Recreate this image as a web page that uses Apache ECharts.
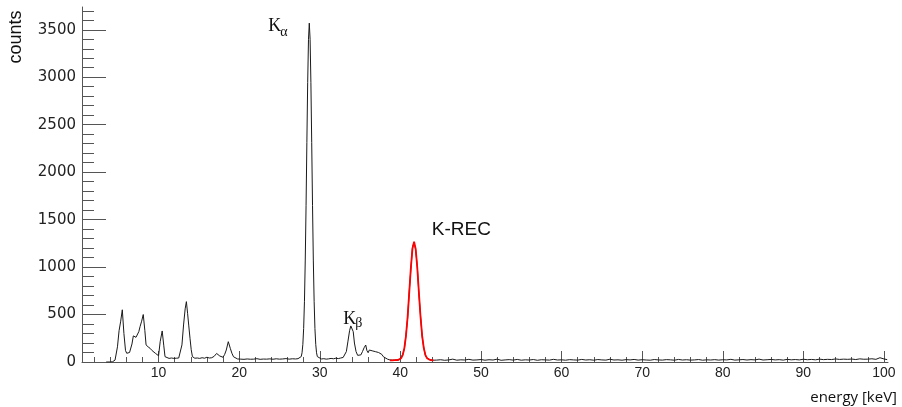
<!DOCTYPE html>
<html>
<head>
<meta charset="utf-8">
<script src="https://cdn.jsdelivr.net/npm/echarts@6/dist/echarts.min.js"></script>
<style>
    html, body { margin: 0; padding: 0; background: #fff; }
    #chart { width: 902px; height: 407px; }
</style>
</head>
<body>
<div id="chart"></div>
<script>
// measured spectrum (energy in keV, counts per bin)
const energy = [
    3.5, 4.0, 4.3, 4.6, 4.9, 5.1, 5.3, 5.5, 5.7, 5.9, 6.05, 6.2, 6.4, 6.55, 6.7, 6.87, 7.05, 7.2, 7.37, 7.55,
    7.7, 7.9, 8.1, 8.3, 8.45, 8.7, 8.95, 9.2, 9.4, 9.6, 9.8, 10.0, 10.2, 10.45, 10.65, 10.8, 11.0, 11.3, 11.6, 11.9,
    12.2, 12.5, 12.7, 12.9, 13.1, 13.3, 13.45, 13.6, 13.75, 13.9, 14.05, 14.2, 14.5, 14.8, 15.1, 15.4, 15.7, 16.0, 16.3, 16.6,
    16.9, 17.2, 17.4, 17.6, 17.8, 18.0, 18.2, 18.4, 18.65, 18.9, 19.1, 19.3, 19.5, 19.8, 20.2, 20.6, 21.0, 21.4, 21.8, 22.2,
    22.6, 23.0, 23.4, 23.8, 24.2, 24.6, 25.0, 25.4, 25.8, 26.2, 26.6, 27.0, 27.3, 27.5, 27.7, 27.8, 27.9, 28.0, 28.1, 28.2,
    28.3, 28.4, 28.5, 28.6, 28.7, 28.8, 28.9, 29.0, 29.1, 29.2, 29.3, 29.4, 29.5, 29.6, 29.7, 29.9, 30.2, 30.5, 30.8, 31.1,
    31.4, 31.7, 32.0, 32.3, 32.6, 32.9, 33.1, 33.3, 33.5, 33.7, 33.85, 34.0, 34.15, 34.3, 34.5, 34.7, 34.9, 35.1, 35.3, 35.5,
    35.7, 35.85, 36.0, 36.15, 36.3, 36.5, 36.7, 36.9, 37.1, 37.3, 37.5, 37.7, 37.9, 38.1, 38.4, 38.7, 39.0, 39.3, 39.6, 39.9,
    40.1, 40.3, 40.5, 40.7, 40.9, 41.1, 41.3, 41.5, 41.7, 41.9, 42.1, 42.3, 42.5, 42.7, 42.9, 43.1, 43.3, 43.5, 43.7, 44.0,
    44.5, 45.0, 45.5, 46.0, 46.5, 47.0, 47.5, 48.0, 48.5, 49.0, 49.5, 50.0, 50.5, 51.0, 51.5, 52.0, 52.5, 53.0, 53.5, 54.0,
    54.5, 55.0, 55.5, 56.0, 56.5, 57.0, 57.5, 58.0, 58.5, 59.0, 59.5, 60.0, 60.5, 61.0, 61.5, 62.0, 62.5, 63.0, 63.5, 64.0,
    64.5, 65.0, 65.5, 66.0, 66.5, 67.0, 67.5, 68.0, 68.5, 69.0, 69.5, 70.0, 70.5, 71.0, 71.5, 72.0, 72.5, 73.0, 73.5, 74.0,
    74.5, 75.0, 75.5, 76.0, 76.5, 77.0, 77.5, 78.0, 78.5, 79.0, 79.5, 80.0, 80.5, 81.0, 81.5, 82.0, 82.5, 83.0, 83.5, 84.0,
    84.5, 85.0, 85.5, 86.0, 86.5, 87.0, 87.5, 88.0, 88.5, 89.0, 89.5, 90.0, 90.5, 91.0, 91.5, 92.0, 92.5, 93.0, 93.5, 94.0,
    94.5, 95.0, 95.5, 96.0, 96.5, 97.0, 97.5, 98.0, 98.5, 99.0, 99.5, 100.0, 100.4
]
const counts = [
    0, 0, 3, 20, 160, 330, 430, 550, 300, 120, 92, 105, 100, 82, 190, 275, 285, 260, 245, 320,
    372, 430, 500, 330, 180, 160, 144, 120, 105, 92, 75, 66, 214, 327, 170, 56, 40, 38, 42, 38,
    40, 42, 55, 180, 390, 560, 636, 513, 380, 250, 130, 56, 40, 42, 38, 45, 40, 50, 42, 45,
    60, 90, 70, 63, 55, 50, 80, 126, 214, 144, 92, 55, 39, 32, 30, 28, 32, 29, 30, 35,
    28, 31, 30, 33, 29, 34, 30, 32, 36, 30, 34, 32, 35, 38, 57, 97, 186, 353, 640, 1074,
    1651, 2311, 2943, 3400, 3570, 3400, 2943, 2311, 1651, 1074, 640, 353, 186, 97, 57, 38, 32, 35, 30, 33,
    38, 34, 40, 36, 42, 48, 56, 110, 220, 330, 380, 390, 320, 200, 110, 70, 58, 75, 110, 150,
    179, 120, 98, 126, 110, 118, 112, 109, 104, 100, 98, 80, 55, 39, 30, 22, 20, 22, 20, 24,
    35, 80, 140, 290, 460, 745, 975, 1210, 1260, 1180, 1005, 715, 490, 270, 155, 70, 42, 25, 22, 19,
    20, 24, 18, 22, 30, 19, 23, 21, 28, 20, 22, 26, 19, 24, 21, 30, 18, 22, 25, 20,
    27, 19, 23, 21, 26, 18, 24, 22, 20, 28, 21, 23, 19, 25, 22, 20, 27, 21, 24, 19,
    26, 22, 20, 29, 21, 23, 19, 25, 22, 27, 20, 24, 21, 19, 26, 22, 20, 25, 23, 19,
    27, 21, 24, 20, 22, 26, 19, 23, 21, 25, 20, 24, 22, 28, 20, 23, 26, 21, 25, 22,
    30, 21, 24, 27, 22, 25, 20, 28, 23, 26, 22, 29, 24, 27, 23, 30, 25, 28, 26, 32,
    27, 30, 28, 31, 26, 33, 29, 30, 34, 28, 45, 32, 25
]

// gaussian fit of the K-REC line (red)
const fitEnergy = [38.7, 39.0, 39.3, 39.5, 39.7, 39.9, 40.1, 40.3, 40.5, 40.7, 40.9, 41.1, 41.3, 41.5, 41.7,
    41.9, 42.1, 42.3, 42.5, 42.7, 42.9, 43.1, 43.3, 43.5, 43.7, 43.9, 44.1]
const fitCounts = [18, 18, 19, 20, 21, 26, 40, 76, 149, 279, 477, 729, 990, 1192, 1268,
    1192, 990, 729, 477, 279, 149, 76, 40, 26, 21, 19, 18]

// axis ticks
const xMajor = [10, 20, 30, 40, 50, 60, 70, 80, 90, 100]
const xMinor = [2, 4, 6, 8, 12, 14, 16, 18, 22, 24, 26, 28, 32, 34, 36, 38, 42, 44, 46, 48, 52, 54, 56, 58,
    62, 64, 66, 68, 72, 74, 76, 78, 82, 84, 86, 88, 92, 94, 96, 98]
const yMajor = [0, 500, 1000, 1500, 2000, 2500, 3000, 3500]
const yMinor = [100, 200, 300, 400, 600, 700, 800, 900, 1100, 1200, 1300, 1400, 1600, 1700, 1800, 1900,
    2100, 2200, 2300, 2400, 2600, 2700, 2800, 2900, 3100, 3200, 3300, 3400, 3600, 3700]

// peak annotations: [energy, counts] anchor of each label
const labelKa = { k: [23.6, 3540], sub: [25.1, 3475] }
const labelKb = { k: [32.9, 453], sub: [34.4, 405] }
const labelRec = [43.9, 1391]

const axisColor = '#555'

const chart = echarts.init(document.getElementById('chart'))

const xBase = {
    type: 'value',
    min: 0.5,
    max: 100.5,
    position: 'bottom',
    splitLine: { show: false }
}
const yBase = {
    type: 'value',
    min: 0,
    max: 3740,
    position: 'left',
    splitLine: { show: false }
}

chart.setOption({
    animation: false,
    grid: { left: 82, right: 14, top: 7, bottom: 45 },
    xAxis: [
        {
            ...xBase,
            axisLine: { lineStyle: { color: axisColor, width: 1 } },
            axisTick: { inside: true, length: 11, customValues: xMajor, lineStyle: { color: axisColor } },
            axisLabel: {
                customValues: xMajor,
                margin: 4,
                color: '#222',
                fontSize: 14,
                fontFamily: 'Liberation Sans'
            }
        },
        {
            ...xBase,
            axisLine: { show: false },
            axisLabel: { show: false },
            axisTick: { inside: true, length: 5, customValues: xMinor, lineStyle: { color: axisColor } }
        }
    ],
    yAxis: [
        {
            ...yBase,
            axisLine: { show: true, lineStyle: { color: axisColor, width: 1 } },
            axisTick: { show: true, inside: true, length: 24, customValues: yMajor, lineStyle: { color: axisColor } },
            axisLabel: {
                customValues: yMajor,
                formatter: v => String(v),
                margin: 6,
                color: '#222',
                fontSize: 15,
                fontFamily: 'DejaVu Sans'
            }
        },
        {
            ...yBase,
            axisLine: { show: false },
            axisLabel: { show: false },
            axisTick: { show: true, inside: true, length: 12, customValues: yMinor, lineStyle: { color: axisColor } }
        }
    ],
    series: [
        {
            type: 'line',
            xAxisIndex: 0,
            yAxisIndex: 0,
            showSymbol: false,
            data: energy.map((e, i) => [e, counts[i]]),
            lineStyle: { color: '#1a1a1a', width: 1 },
            z: 2
        },
        {
            type: 'line',
            xAxisIndex: 0,
            yAxisIndex: 0,
            showSymbol: false,
            data: fitEnergy.map((e, i) => [e, fitCounts[i]]),
            lineStyle: { color: '#ff0000', width: 1.8 },
            z: 3
        }
    ]
})

// labels are anchored in data space, so they follow the axes
const px = p => chart.convertToPixel({ gridIndex: 0 }, p)
const serif = 'Liberation Serif'

const text = (pos, str, font, align) => ({
    type: 'text',
    x: pos[0],
    y: pos[1],
    style: { text: str, font: font, fill: '#111', textAlign: align || 'left', textVerticalAlign: 'middle' }
})

chart.setOption({
    graphic: [
        {
            type: 'text',
            x: 16,
            y: 37,
            rotation: Math.PI / 2,
            style: {
                text: 'counts',
                font: '18px "Liberation Sans"',
                fill: '#111',
                textAlign: 'center',
                textVerticalAlign: 'middle'
            }
        },
        {
            type: 'text',
            x: 897,
            y: 398,
            style: {
                text: 'energy [keV]',
                font: '15px "Open Sans"',
                fill: '#111',
                textAlign: 'right',
                textVerticalAlign: 'middle'
            }
        },
        text(px(labelKa.k), 'K', '18px "' + serif + '"'),
        text(px(labelKa.sub), 'α', '14px "' + serif + '"'),
        text(px(labelKb.k), 'K', '18px "' + serif + '"'),
        text(px(labelKb.sub), 'β', '14px "' + serif + '"'),
        text(px(labelRec), 'K-REC', '19px "Liberation Sans"')
    ]
})
</script>
</body>
</html>
